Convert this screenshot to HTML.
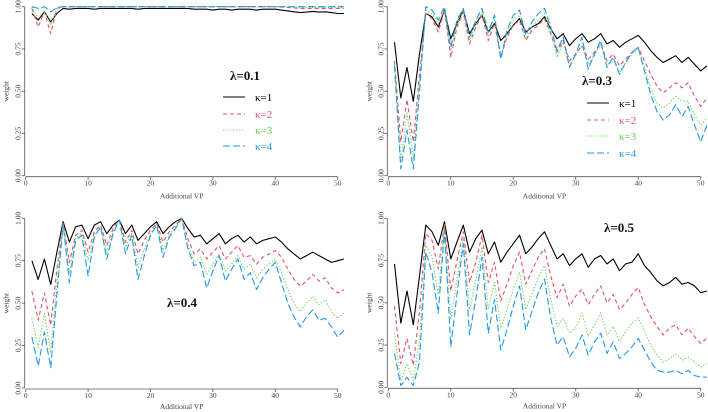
<!DOCTYPE html>
<html><head><meta charset="utf-8"><style>
html,body{margin:0;padding:0;background:#fff;}
svg{display:block;font-family:"Liberation Serif",serif;}
</style></head><body>
<svg id="chart" width="708" height="412" viewBox="0 0 708 412" xmlns="http://www.w3.org/2000/svg"></svg>
<script>
const xValues = Array.from({length:51},(_,i)=>i+1);
const xTicks = [0,10,20,30,40,50];
const yTicks = [0,0.25,0.5,0.75,1];
const yTickLabels = ["0.00","0.25","0.50","0.75","1.00"];
const seriesNames = ["κ=1","κ=2","κ=3","κ=4"];

const l01k1 = [.96,.92,.97,.91,.96,.99,.985,.99,.99,.99,.985,.99,.99,.99,.99,.99,.99,.985,.99,.99,.99,.99,.99,.99,.99,.99,.985,.985,.985,.98,.985,.985,.98,.985,.985,.985,.98,.985,.985,.985,.98,.975,.97,.965,.968,.972,.968,.97,.965,.96,.96];
const l01k2 = [.99,.88,.97,.84,.99,1,1,1,1,1,1,1,1,1,1,1,1,1,1,1,1,1,1,1,1,1,1,1,1,1,1,1,1,1,1,1,1,1,1,1,.998,.995,.993,.99,.99,.99,.99,.99,.99,.99,.99];
const l01k3 = [1,.93,.98,.89,.99,1,1,1,1,1,1,1,1,1,1,1,1,1,1,1,1,1,1,1,1,1,1,1,1,1,1,1,1,1,1,1,1,1,1,1,1,.998,.997,.996,.996,.996,.996,.996,.995,.995,.995];
const l01k4 = [1,.99,1,.97,.995,1,1,1,1,1,1,1,1,1,1,1,1,1,1,1,1,1,1,1,1,1,1,1,1,1,1,1,1,1,1,1,1,1,1,1,1,1,1,1,1,1,1,1,1,1,1];

const l03k1 = [.79,.46,.64,.44,.72,.96,.94,.88,.98,.81,.90,.98,.84,.90,.95,.85,.90,.80,.84,.89,.93,.85,.88,.90,.94,.87,.81,.84,.77,.81,.84,.79,.81,.84,.78,.80,.76,.79,.81,.83,.79,.74,.70,.67,.69,.71,.67,.70,.66,.62,.65];
const l03k2 = [.68,.20,.45,.20,.60,.96,.93,.85,.98,.70,.88,.97,.78,.88,.95,.80,.90,.70,.82,.89,.92,.80,.86,.89,.93,.84,.73,.80,.68,.72,.77,.69,.73,.78,.68,.72,.65,.69,.73,.76,.68,.60,.53,.49,.52,.55,.52,.55,.47,.41,.46];
const l03k3 = [.66,.09,.37,.10,.55,.98,.96,.90,.98,.74,.90,.98,.80,.90,.97,.82,.93,.70,.84,.92,.95,.81,.88,.92,.96,.85,.70,.79,.65,.71,.77,.66,.71,.78,.65,.70,.61,.67,.72,.75,.64,.52,.43,.40,.43,.47,.44,.44,.36,.30,.34];
const l03k4 = [.65,.04,.27,.04,.50,1,.98,.92,1,.76,.92,.99,.82,.92,.99,.85,.95,.69,.86,.95,.98,.83,.91,.96,.99,.88,.74,.82,.64,.72,.82,.63,.72,.80,.64,.70,.60,.67,.73,.76,.62,.48,.38,.33,.36,.42,.35,.41,.30,.20,.30];

const l04k1 = [.75,.64,.76,.61,.80,.98,.86,.95,.96,.88,.96,.98,.91,.96,.99,.91,.96,.87,.91,.95,.98,.91,.95,.98,1,.94,.89,.90,.85,.88,.91,.85,.88,.90,.86,.89,.85,.87,.88,.89,.86,.82,.79,.76,.78,.80,.78,.76,.74,.75,.76];
const l04k2 = [.57,.40,.56,.37,.70,.97,.74,.90,.93,.80,.92,.96,.84,.94,.99,.86,.93,.79,.87,.93,.97,.86,.92,.96,1,.88,.79,.82,.76,.80,.84,.76,.80,.84,.77,.78,.73,.77,.79,.81,.77,.70,.64,.60,.63,.67,.63,.65,.59,.56,.58];
const l04k3 = [.41,.24,.44,.21,.62,.97,.68,.88,.91,.75,.90,.95,.80,.92,.99,.83,.91,.71,.82,.91,.97,.81,.90,.95,1,.84,.74,.77,.67,.73,.79,.69,.73,.78,.70,.73,.65,.70,.73,.76,.68,.58,.50,.45,.50,.54,.49,.52,.45,.41,.44];
const l04k4 = [.30,.13,.33,.12,.55,.97,.62,.87,.90,.66,.89,.95,.76,.91,.99,.79,.90,.64,.78,.90,.96,.77,.89,.94,1,.82,.72,.74,.59,.69,.78,.63,.70,.76,.64,.68,.58,.65,.70,.74,.62,.50,.42,.36,.42,.46,.40,.41,.36,.30,.34];

const l05k1 = [.73,.38,.57,.37,.66,.96,.92,.84,.98,.76,.86,.96,.80,.88,.93,.79,.86,.74,.80,.85,.90,.79,.83,.88,.92,.84,.76,.79,.72,.76,.79,.71,.76,.78,.73,.76,.69,.73,.74,.79,.72,.68,.63,.60,.62,.65,.61,.62,.60,.56,.57];
const l05k2 = [.48,.14,.29,.13,.45,.91,.87,.70,.97,.57,.75,.92,.62,.74,.90,.62,.74,.51,.61,.72,.80,.61,.69,.77,.82,.66,.53,.61,.48,.54,.58,.49,.55,.60,.50,.55,.46,.50,.55,.59,.49,.42,.36,.31,.35,.37,.31,.35,.30,.26,.29];
const l05k3 = [.32,.04,.14,.04,.28,.84,.77,.55,.95,.40,.64,.88,.46,.63,.83,.46,.62,.35,.46,.58,.68,.46,.55,.65,.72,.52,.36,.41,.32,.35,.44,.30,.37,.44,.31,.36,.27,.33,.38,.41,.33,.25,.19,.15,.17,.20,.16,.18,.15,.12,.14];
const l05k4 = [.20,.01,.06,.01,.15,.80,.68,.44,.93,.24,.55,.85,.31,.52,.77,.32,.52,.22,.34,.48,.60,.34,.45,.56,.64,.41,.25,.30,.18,.23,.31,.19,.27,.32,.20,.27,.17,.20,.24,.29,.22,.15,.10,.09,.09,.10,.08,.10,.07,.06,.06];

const NS="http://www.w3.org/2000/svg";
const svg=document.getElementById('chart');
const colors=["#000000","#DF536B","#61D04F","#2297E6"];
const dashes=["","4,3","1.2,2","7,3"];
function mk(tag,attrs,parent){const e=document.createElementNS(NS,tag);for(const k in attrs)e.setAttribute(k,attrs[k]);(parent||svg).appendChild(e);return e;}

const panels=[
 {id:"lambda-0.1",label:"λ=0.1",x0:25.7,x50:337.7,y1:6.7,y0:175.7,tb:23,data:[l01k1,l01k2,l01k3,l01k4],lab:[245,80],legend:[223,255,[97,114,130,146]]},
 {id:"lambda-0.3",label:"λ=0.3",x0:388.3,x50:700.7,y1:6.7,y0:175.7,tb:23,data:[l03k1,l03k2,l03k3,l03k4],lab:[597,85],legend:[587,619,[103,120,136,153]]},
 {id:"lambda-0.4",label:"λ=0.4",x0:25.7,x50:337.7,y1:218.3,y0:388,tb:21,data:[l04k1,l04k2,l04k3,l04k4],lab:[182,307],legend:null},
 {id:"lambda-0.5",label:"λ=0.5",x0:388.3,x50:700.7,y1:218.3,y0:387.3,tb:21,data:[l05k1,l05k2,l05k3,l05k4],lab:[619,232],legend:null}
];
panels.forEach(p=>{
 const g=mk('g',{});
 
 
 const xs=v=>p.x0+(p.x50-p.x0)*v/50;
 const ys=v=>p.y0-(p.y0-p.y1)*v;
 const ax=mk('g',{stroke:"#555","stroke-width":"0.8",fill:"none"},g);
 
 
 mk('line',{x1:p.x0-1,y1:ys(0),x2:p.x0-1,y2:ys(1)},ax);
 mk('line',{x1:p.x0,y1:p.y0+1,x2:p.x50,y2:p.y0+1},ax);
 yTicks.forEach((t,i)=>{
  mk('line',{x1:p.x0-1,y1:ys(t),x2:p.x0-4,y2:ys(t)},ax);
  const tx=mk('text',{x:0,y:0,transform:`translate(${p.x0-5},${ys(t)}) rotate(-90)`,"text-anchor":"middle","font-size":"7.5",fill:"#444"},g);
  
  
  tx.textContent=yTickLabels[i];
 });
 xTicks.forEach(t=>{
  mk('line',{x1:xs(t),y1:p.y0+1,x2:xs(t),y2:p.y0+4},ax);
  const tx=mk('text',{x:xs(t),y:p.y0+10,"text-anchor":"middle","font-size":"7.5",fill:"#444"},g);
  
  
  tx.textContent=t;
 });
 const yt=mk('text',{transform:`translate(${p.x0-17},${(p.y0+p.y1)/2}) rotate(-90)`,"text-anchor":"middle","font-size":"7.5",fill:"#444"},g);
 
 
 yt.textContent="weight";
 const xt=mk('text',{x:(p.x0+p.x50)/2,y:p.y0+p.tb,"text-anchor":"middle","font-size":"7.5",fill:"#444"},g);
 
 
 xt.textContent="Additional VP";
 p.data.forEach((arr,si)=>{
  const pts=arr.map((v,i)=>xs(xValues[i]).toFixed(1)+","+ys(v).toFixed(1)).join(" ");
  const pl=mk('polyline',{points:pts,fill:"none",stroke:colors[si],"stroke-width":"1.1","stroke-dasharray":dashes[si],"stroke-linejoin":"round"},g);
  
  
 });
 const lt=mk('text',{x:p.lab[0],y:p.lab[1],"text-anchor":"middle","font-size":"13","font-weight":"bold",fill:"#111"},g);
 
 
 lt.textContent=p.label;
 if(p.legend){
  const lg=mk('g',{},g);
  
  
  seriesNames.forEach((n,si)=>{
   const yy=p.legend[2][si];
   const e=mk('g',{},lg);
   
   
   mk('line',{x1:p.legend[0],y1:yy,x2:p.legend[0]+22,y2:yy,stroke:colors[si],"stroke-width":"1.1","stroke-dasharray":dashes[si]},e);
   const t=mk('text',{x:p.legend[1],y:yy+4,"font-size":"11",fill:colors[si]},e);
   t.textContent=n;
  });
 }
});
</script>
</body></html>
